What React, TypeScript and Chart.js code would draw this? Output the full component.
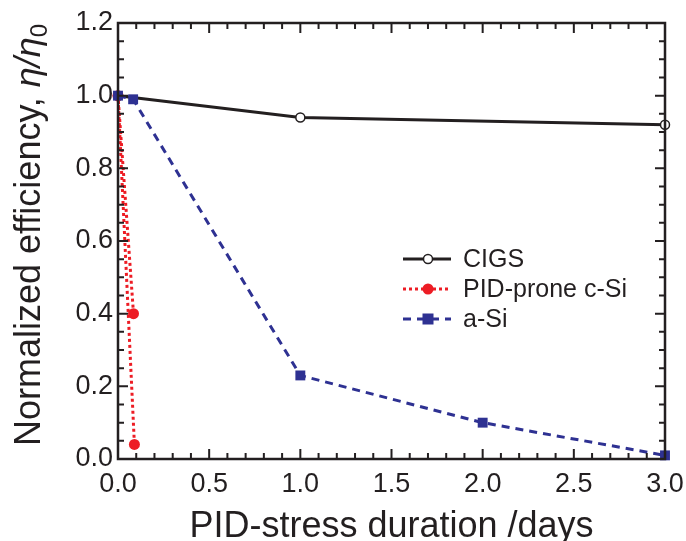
import React, { useEffect, useRef } from "react";
import { Chart, registerables } from "chart.js";

Chart.register(...registerables);

// ---- data ----
const cigsX = [0, 1.0, 3.0];
const cigsY = [1.0, 0.94, 0.92];
const csiX = [0.085, 0, 0.09];
const csiY = [0.40, 1.0, 0.04];
const asiX = [0, 0.083, 1.0, 2.0, 3.0];
const asiY = [1.0, 0.99, 0.23, 0.10, 0.01];
const seriesNames = ["CIGS", "PID-prone c-Si", "a-Si"];
const xTitle = "PID-stress duration /days";
const yTitleParts = ["Normalized efficiency, ", "η/η", "0"];

const INK = "#231f20";
const RED = "#ed1c24";
const BLUE = "#2e3192";
const FONT = "'Liberation Sans', Arial, Helvetica, sans-serif";

const toPts = (xs: number[], ys: number[]) => xs.map((x, i) => ({ x, y: ys[i] }));

const framePlugin = {
  id: "frameTicks",
  afterDatasetsDraw(chart: any) {
    const { ctx, chartArea: a, scales } = chart;
    const xs = scales.x;
    const ys = scales.y;
    ctx.save();
    ctx.strokeStyle = INK;
    ctx.lineWidth = 2.5;
    ctx.strokeRect(a.left, a.top, a.right - a.left, a.bottom - a.top);
    ctx.lineWidth = 2;
    ctx.beginPath();
    for (let i = 0; i <= 30; i++) {
      const v = i / 10;
      const px = xs.getPixelForValue(v);
      const len = i % 5 === 0 ? 10 : 6;
      ctx.moveTo(px, a.bottom);
      ctx.lineTo(px, a.bottom - len);
      ctx.moveTo(px, a.top);
      ctx.lineTo(px, a.top + len);
    }
    for (let i = 0; i <= 24; i++) {
      const v = i * 0.05;
      const py = ys.getPixelForValue(v);
      const len = i % 4 === 0 ? 10 : 6;
      ctx.moveTo(a.left, py);
      ctx.lineTo(a.left + len, py);
      ctx.moveTo(a.right, py);
      ctx.lineTo(a.right - len, py);
    }
    ctx.stroke();
    ctx.restore();
  },
  afterDraw(chart: any) {
    const { ctx, chartArea: a } = chart;
    ctx.save();
    // y title with italic eta and subscript
    const size = 36;
    const fNormal = `${size}px ${FONT}`;
    const fItalic = `italic ${size}px ${FONT}`;
    const fSub = `${Math.round(size * 0.68)}px ${FONT}`;
    ctx.font = fNormal;
    const w1 = ctx.measureText(yTitleParts[0]).width;
    ctx.font = fItalic;
    const w2 = ctx.measureText(yTitleParts[1]).width;
    ctx.font = fSub;
    const w3 = ctx.measureText(yTitleParts[2]).width;
    const W = w1 + w2 + w3;
    ctx.translate(40, 235);
    ctx.rotate(-Math.PI / 2);
    ctx.fillStyle = INK;
    ctx.textBaseline = "alphabetic";
    ctx.textAlign = "left";
    let x = -W / 2;
    ctx.font = fNormal;
    ctx.fillText(yTitleParts[0], x, 0);
    x += w1;
    ctx.font = fItalic;
    ctx.fillText(yTitleParts[1], x, 0);
    x += w2;
    ctx.font = fSub;
    ctx.fillText(yTitleParts[2], x, 7);
    ctx.restore();

    // legend
    ctx.save();
    const lx = a.left + 285;
    const rows = [a.top + 236, a.top + 266, a.top + 296];
    const styles = [
      { color: INK, dash: [] as number[], point: "circle" },
      { color: RED, dash: [3, 3], point: "dot" },
      { color: BLUE, dash: [8, 6], point: "rect" },
    ];
    rows.forEach((ry, i) => {
      const s = styles[i];
      ctx.strokeStyle = s.color;
      ctx.lineWidth = 3;
      ctx.setLineDash(s.dash);
      ctx.beginPath();
      ctx.moveTo(lx, ry);
      ctx.lineTo(lx + 48, ry);
      ctx.stroke();
      ctx.setLineDash([]);
      const mx = lx + 25;
      if (s.point === "circle") {
        ctx.fillStyle = "#fff";
        ctx.lineWidth = 1.5;
        ctx.beginPath();
        ctx.arc(mx, ry, 4.5, 0, Math.PI * 2);
        ctx.fill();
        ctx.stroke();
      } else if (s.point === "dot") {
        ctx.fillStyle = s.color;
        ctx.beginPath();
        ctx.arc(mx, ry, 5.5, 0, Math.PI * 2);
        ctx.fill();
      } else {
        ctx.fillStyle = s.color;
        ctx.fillRect(mx - 5.5, ry - 5.5, 11, 11);
      }
      ctx.fillStyle = INK;
      ctx.font = `25px ${FONT}`;
      ctx.textBaseline = "middle";
      ctx.textAlign = "left";
      ctx.fillText(seriesNames[i], lx + 60, ry + 1);
    });
    ctx.restore();
  },
};

export default function App() {
  const ref = useRef<HTMLCanvasElement>(null);
  useEffect(() => {
    document.body.style.margin = "0";
    const canvas = ref.current!;
    const chart = new Chart(canvas, {
      type: "scatter",
      data: {
        datasets: [
          {
            label: seriesNames[0],
            data: toPts(cigsX, cigsY),
            showLine: true,
            borderColor: INK,
            borderWidth: 3,
            pointRadius: 4.5,
            pointBackgroundColor: "#fff",
            pointBorderColor: INK,
            pointBorderWidth: 1.5,
            order: 2,
            clip: false as any,
          },
          {
            label: seriesNames[1],
            data: toPts(csiX, csiY),
            showLine: true,
            borderColor: RED,
            borderWidth: 3,
            borderDash: [3, 3],
            pointRadius: 5.5,
            pointBackgroundColor: RED,
            pointBorderColor: RED,
            pointBorderWidth: 0,
            order: 1,
            clip: false as any,
          },
          {
            label: seriesNames[2],
            data: toPts(asiX, asiY),
            showLine: true,
            borderColor: BLUE,
            borderWidth: 3,
            borderDash: [8, 6],
            pointStyle: "rect",
            pointRadius: 7,
            pointBackgroundColor: BLUE,
            pointBorderColor: BLUE,
            pointBorderWidth: 0,
            order: 0,
            clip: false as any,
          },
        ],
      },
      options: {
        animation: false,
        responsive: false,
        layout: { padding: { top: 23, right: 21, left: 0, bottom: 0 } },
        plugins: { legend: { display: false }, tooltip: { enabled: false } },
        scales: {
          x: {
            type: "linear",
            min: 0,
            max: 3,
            grid: { display: false, drawTicks: false },
            border: { display: false },
            ticks: {
              stepSize: 0.5,
              padding: 9,
              color: INK,
              font: { size: 27, family: FONT },
              callback: (v: any) => Number(v).toFixed(1),
              maxRotation: 0,
            },
            title: {
              display: true,
              text: xTitle,
              color: INK,
              font: { size: 36, family: FONT, lineHeight: 0.8 },
              padding: { top: 0, bottom: 0 },
            },
            afterFit: (s: any) => {
              s.height = 82;
              s.paddingRight = 0;
              s.paddingLeft = 0;
            },
          },
          y: {
            type: "linear",
            min: 0,
            max: 1.2,
            grid: { display: false, drawTicks: false },
            border: { display: false },
            ticks: {
              stepSize: 0.2,
              padding: 5,
              color: INK,
              font: { size: 27, family: FONT },
              callback: (v: any) => Number(v).toFixed(1),
            },
            afterFit: (s: any) => {
              s.width = 118;
              s.paddingTop = 0;
              s.paddingBottom = 0;
            },
          },
        },
      },
      plugins: [framePlugin],
    });
    return () => chart.destroy();
  }, []);
  return (
    <div style={{ width: 686, height: 541 }}>
      <canvas ref={ref} width={686} height={541} style={{ display: "block" }} />
    </div>
  );
}
